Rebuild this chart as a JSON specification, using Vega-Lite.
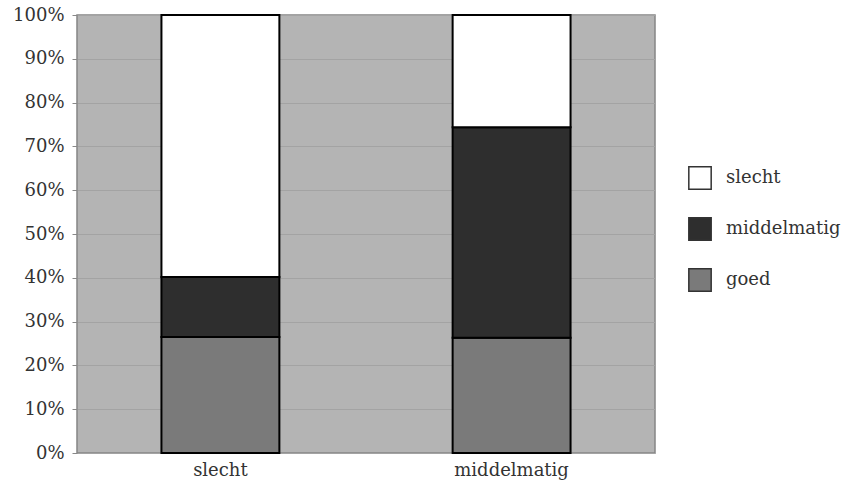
{
  "$schema": "https://vega.github.io/schema/vega-lite/v6.json",
  "width": 578,
  "height": 438,
  "autosize": {"type": "none"},
  "padding": {"left": 77, "top": 15, "right": 210, "bottom": 33},
  "background": "white",
  "config": {
    "font": "DejaVu Serif",
    "view": {"fill": "#b4b4b4", "stroke": "#858585", "strokeWidth": 1.5},
    "axis": {"labelFont": "DejaVu Serif", "labelColor": "#333333"}
  },
  "data": {
    "values": [
      {"groep": "slecht", "beoordeling": "goed", "pct": 26.5},
      {"groep": "slecht", "beoordeling": "middelmatig", "pct": 13.7},
      {"groep": "slecht", "beoordeling": "slecht", "pct": 59.8},
      {"groep": "middelmatig", "beoordeling": "goed", "pct": 26.3},
      {"groep": "middelmatig", "beoordeling": "middelmatig", "pct": 48.1},
      {"groep": "middelmatig", "beoordeling": "slecht", "pct": 25.6}
    ]
  },
  "mark": {"type": "bar", "stroke": "black", "strokeWidth": 2},
  "encoding": {
    "x": {
      "field": "groep",
      "type": "nominal",
      "sort": ["slecht", "middelmatig"],
      "title": null,
      "scale": {"paddingInner": 0.595, "paddingOuter": 0.29},
      "axis": {"labelAngle": 0, "ticks": false, "domain": false, "labelFontSize": 18, "labelPadding": 8}
    },
    "y": {
      "field": "pct",
      "type": "quantitative",
      "stack": "normalize",
      "title": null,
      "scale": {"domain": [0, 1]},
      "axis": {
        "values": [0, 0.1, 0.2, 0.3, 0.4, 0.5, 0.6, 0.7, 0.8, 0.9, 1],
        "format": ".0%",
        "labelFontSize": 18,
        "labelPadding": 8,
        "tickSize": 5,
        "tickColor": "#888888",
        "domain": false,
        "grid": true,
        "gridColor": "#a3a3a3",
        "gridWidth": 1
      }
    },
    "color": {
      "field": "beoordeling",
      "type": "nominal",
      "scale": {
        "domain": ["slecht", "middelmatig", "goed"],
        "range": ["#ffffff", "#2e2e2e", "#7a7a7a"]
      },
      "legend": {
        "title": null,
        "orient": "none",
        "legendX": 611,
        "legendY": 151,
        "symbolType": "square",
        "symbolSize": 500,
        "symbolStrokeColor": "#333333",
        "symbolStrokeWidth": 1.5,
        "symbolOpacity": 1,
        "labelFontSize": 18,
        "labelColor": "#333333",
        "labelOffset": 14,
        "rowPadding": 21
      }
    },
    "order": {"field": "beoordeling", "sort": "ascending"}
  }
}
